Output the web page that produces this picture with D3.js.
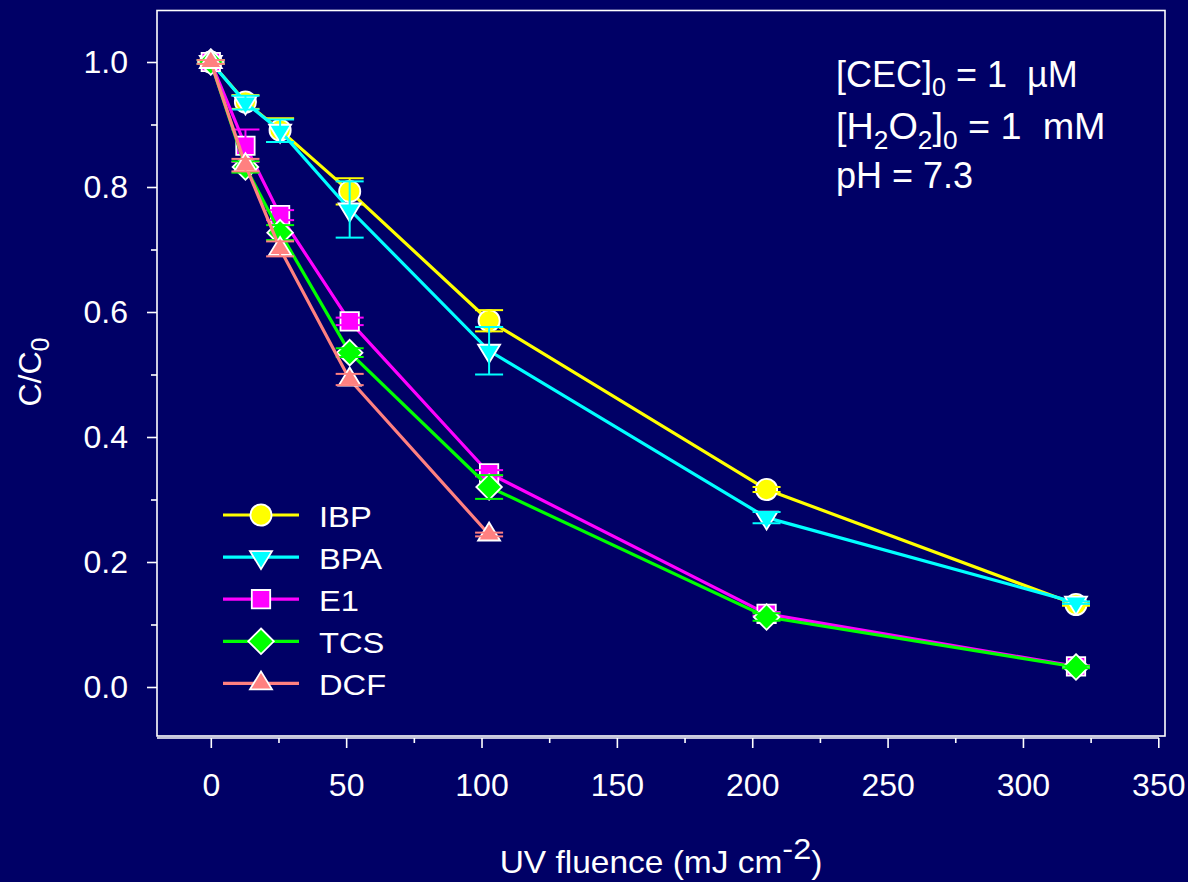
<!DOCTYPE html>
<html>
<head>
<meta charset="utf-8">
<script src="https://cdn.jsdelivr.net/npm/d3@7"></script>
<style>
  html, body { margin: 0; padding: 0; background: #000066; }
  svg { display: block; }
  text { font-family: "Liberation Sans", Arial, sans-serif; fill: #ffffff; }
</style>
</head>
<body>
<svg id="chart" width="1188" height="882"></svg>
<script>
// UV fluence (mJ cm^-2) at each sampling point
const fluence = [0, 12.8, 25.6, 51.3, 102.8, 205.3, 319.6];

// Normalised concentration C/C0 and standard deviations per compound
const ibpValues = [1.0, 0.936, 0.891, 0.793, 0.586, 0.316, 0.132];
const ibpErrors = [0.003, 0.011, 0.019, 0.021, 0.017, 0.004, 0.002];
const bpaValues = [1.0, 0.935, 0.890, 0.764, 0.538, 0.271, 0.135];
const bpaErrors = [0.003, 0.011, 0.018, 0.045, 0.038, 0.009, 0.002];
const e1Values  = [1.0, 0.866, 0.755, 0.585, 0.342, 0.117, 0.033];
const e1Errors  = [0.003, 0.026, 0.008, 0.006, 0.005, 0.003, 0.002];
const tcsValues = [1.0, 0.832, 0.727, 0.535, 0.320, 0.112, 0.032];
const tcsErrors = [0.003, 0.009, 0.012, 0.007, 0.019, 0.006, 0.002];
const dcfValues = [1.0, 0.835, 0.701, 0.492, 0.244];
const dcfErrors = [0.003, 0.010, 0.012, 0.009, 0.003];

const seriesNames = ["IBP", "BPA", "E1", "TCS", "DCF"];
const seriesColors = ["#ffff00", "#00ffff", "#ff00ff", "#00ff00", "#ff8080"];
const seriesShapes = ["circle", "triangleDown", "square", "diamond", "triangleUp"];

const xTicks = [0, 50, 100, 150, 200, 250, 300, 350];
const xMinorTicks = [25, 75, 125, 175, 225, 275, 325];
const yTicks = [0, 0.2, 0.4, 0.6, 0.8, 1.0];
const yMinorTicks = [0.1, 0.3, 0.5, 0.7, 0.9];

const valuesBySeries = [ibpValues, bpaValues, e1Values, tcsValues, dcfValues];
const errorsBySeries = [ibpErrors, bpaErrors, e1Errors, tcsErrors, dcfErrors];

const series = seriesNames.map((name, i) => ({
  name,
  color: seriesColors[i],
  shape: seriesShapes[i],
  points: valuesBySeries[i].map((v, j) => ({ x: fluence[j], y: v, e: errorsBySeries[i][j] }))
}));

const svg = d3.select("#chart");

// plot frame
const frame = { left: 157, top: 10.5, right: 1165, bottom: 736 };

const x = d3.scaleLinear().domain([0, 350]).range([210.8, 1158.3]);
const y = d3.scaleLinear().domain([0, 1]).range([687, 62]);

svg.append("rect")
  .attr("x", frame.left).attr("y", frame.top)
  .attr("width", frame.right - frame.left).attr("height", frame.bottom - frame.top)
  .attr("fill", "none").attr("stroke", "#ffffff").attr("stroke-width", 1.6);

// x axis (separate baseline under the frame)
const axisY = 738;
const gx = svg.append("g").attr("transform", `translate(0,${axisY})`)
  .call(d3.axisBottom(x).tickValues(xTicks).tickFormat(d3.format("d")).tickSize(10).tickPadding(25));
gx.select(".domain").attr("d", `M${frame.left},0H${1159}`);
const gxMinor = svg.append("g").attr("transform", `translate(0,${axisY})`)
  .call(d3.axisBottom(x).tickValues(xMinorTicks).tickFormat("").tickSize(5));
gxMinor.select(".domain").remove();

// y axis on the frame's left edge
const gy = svg.append("g").attr("transform", `translate(${frame.left},0)`)
  .call(d3.axisLeft(y).tickValues(yTicks).tickFormat(d3.format(".1f")).tickSize(10).tickPadding(19));
gy.select(".domain").remove();
const gyMinor = svg.append("g").attr("transform", `translate(${frame.left},0)`)
  .call(d3.axisLeft(y).tickValues(yMinorTicks).tickFormat("").tickSize(6));
gyMinor.select(".domain").remove();

svg.selectAll(".tick line, .domain").attr("stroke", "#ffffff").attr("stroke-width", 1.6);
svg.selectAll(".tick text")
  .attr("fill", "#ffffff")
  .style("font-family", '"Liberation Sans", Arial, sans-serif')
  .style("font-size", "32px");

// axis titles (set slightly wide)
const xTitle = svg.append("text")
  .attr("transform", "translate(661,873) scale(1.08,1)")
  .attr("text-anchor", "middle")
  .style("font-size", "31px");
xTitle.append("tspan").text("UV fluence (mJ cm");
xTitle.append("tspan").attr("dy", -14).style("font-size", "30px").text("-2");
xTitle.append("tspan").attr("dy", 14).text(")");

const yTitle = svg.append("text")
  .attr("transform", "translate(41,372) rotate(-90)")
  .attr("text-anchor", "middle")
  .style("font-size", "32px");
yTitle.append("tspan").text("C/C");
yTitle.append("tspan").attr("dy", 8).style("font-size", "25px").text("0");

// marker outlines, centred on the data point (triangles on their centroid)
function markerPath(shape) {
  switch (shape) {
    case "circle": {
      const r = 10.6;
      return `M${r},0A${r},${r} 0 1,1 ${-r},0A${r},${r} 0 1,1 ${r},0Z`;
    }
    case "square": {
      const h = 9.2;
      return `M${-h},${-h}H${h}V${h}H${-h}Z`;
    }
    case "diamond": {
      const h = 12.8;
      return `M0,${-h}L${h},0L0,${h}L${-h},0Z`;
    }
    case "triangleUp": {
      const w = 11, ht = 18;
      return `M0,${-ht * 2 / 3}L${w},${ht / 3}L${-w},${ht / 3}Z`;
    }
    case "triangleDown": {
      const w = 11, ht = 18;
      return `M0,${ht * 2 / 3}L${w},${-ht / 3}L${-w},${-ht / 3}Z`;
    }
  }
}

const line = d3.line().x(d => x(d.x)).y(d => y(d.y));
const capHalf = 14;

const plot = svg.append("g");
series.forEach(s => {
  const g = plot.append("g");
  g.append("path")
    .datum(s.points)
    .attr("d", line)
    .attr("fill", "none")
    .attr("stroke", s.color)
    .attr("stroke-width", 3.2)
    .attr("stroke-linejoin", "round");

  g.selectAll(".marker")
    .data(s.points)
    .join("path")
    .attr("class", "marker")
    .attr("transform", d => `translate(${x(d.x)},${y(d.y)})`)
    .attr("d", markerPath(s.shape))
    .attr("fill", s.color)
    .attr("stroke", "#ffffff")
    .attr("stroke-width", 1.8);

  const eb = g.selectAll(".err")
    .data(s.points)
    .join("g")
    .attr("class", "err")
    .attr("stroke", s.color)
    .attr("stroke-width", 2);
  eb.append("line")
    .attr("x1", d => x(d.x)).attr("x2", d => x(d.x))
    .attr("y1", d => y(d.y + d.e)).attr("y2", d => y(d.y - d.e));
  eb.append("line")
    .attr("x1", d => x(d.x) - capHalf).attr("x2", d => x(d.x) + capHalf)
    .attr("y1", d => y(d.y + d.e)).attr("y2", d => y(d.y + d.e));
  eb.append("line")
    .attr("x1", d => x(d.x) - capHalf).attr("x2", d => x(d.x) + capHalf)
    .attr("y1", d => y(d.y - d.e)).attr("y2", d => y(d.y - d.e));
});

// legend
const legend = svg.append("g").attr("transform", "translate(223,515)");
series.forEach((s, i) => {
  const row = legend.append("g").attr("transform", `translate(0,${i * 42.1})`);
  row.append("line")
    .attr("x1", 0).attr("x2", 76).attr("y1", 0).attr("y2", 0)
    .attr("stroke", s.color).attr("stroke-width", 3.2);
  row.append("path")
    .attr("transform", "translate(38,0)")
    .attr("d", markerPath(s.shape))
    .attr("fill", s.color)
    .attr("stroke", "#ffffff")
    .attr("stroke-width", 1.8);
  row.append("text")
    .attr("transform", "translate(96,11.5) scale(1.09,1)")
    .style("font-size", "30px")
    .text(s.name);
});

// experimental conditions
const note = svg.append("g")
  .style("font-family", "Lato, 'Open Sans', sans-serif")
  .style("font-size", "36px");
const l1 = note.append("text").attr("x", 836).attr("y", 87).attr("xml:space", "preserve");
l1.append("tspan").text("[CEC]");
l1.append("tspan").attr("dy", 9).style("font-size", "25px").text("0");
l1.append("tspan").attr("dy", -9).text(" = 1  \u00b5M");

const l2 = note.append("text")
  .attr("transform", "translate(836,139) scale(1.05,1)")
  .attr("xml:space", "preserve");
l2.append("tspan").text("[H");
l2.append("tspan").attr("dy", 10).style("font-size", "25px").text("2");
l2.append("tspan").attr("dy", -10).text("O");
l2.append("tspan").attr("dy", 10).style("font-size", "25px").text("2");
l2.append("tspan").attr("dy", -10).text("]");
l2.append("tspan").attr("dy", 10).style("font-size", "25px").text("0");
l2.append("tspan").attr("dy", -10).text(" = 1  mM");

note.append("text").attr("x", 836).attr("y", 188).text("pH = 7.3");
</script>
</body>
</html>
